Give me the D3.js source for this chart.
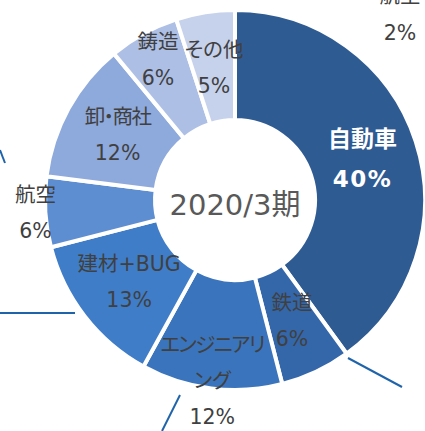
<!DOCTYPE html>
<html><head><meta charset="utf-8">
<script src="https://cdn.jsdelivr.net/npm/d3@7"></script>
<style>html,body{margin:0;padding:0;background:#fff;overflow:hidden}
.palt{font-feature-settings:"palt" 1}</style>
</head><body>
<svg id="c" width="425" height="431"></svg>
<script>
const categories = ["自動車","鉄道","エンジニアリング","建材+BUG","航空","卸・商社","鋳造","その他"];
const values = [40, 6, 12, 13, 6, 12, 6, 5];
const labelLines = [["自動車"],["鉄道"],["エンジニアリ","ング"],["建材+BUG"],["航空"],["卸・商社"],["鋳造"],["その他"]];
const colors = ["#2F5B93","#3467AA","#3A74BC","#3F7DC8","#5E8ED2","#8EA9DB","#ADBFE5","#C6D2EC"];
const centerTitle = "2020/3期";

const svg = d3.select("#c");
const cx = 235, cy = 200, rOuter = 190, rInner = 80;
const font = "'DejaVu Sans','Noto Sans CJK JP',sans-serif";
const g = svg.append("g").attr("transform", `translate(${cx},${cy})`);

const pie = d3.pie().sort(null).value(d => d.v);
const data = categories.map((c, i) => ({c, v: values[i], i}));
const arcs = pie(data);
const arc = d3.arc().innerRadius(rInner).outerRadius(rOuter);

g.selectAll("path").data(arcs).join("path")
  .attr("d", arc)
  .attr("fill", d => colors[d.data.i])
  .attr("stroke", "#fff").attr("stroke-width", 4).attr("stroke-linejoin", "miter");

// label radius per category (layout only)
const labelR = {"エンジニアリング": 182, "航空": 200, "鋳造": 160};
const kana = /[\u3040-\u30ff]/;
arcs.forEach(d => {
  const mid = (d.startAngle + d.endAngle) / 2;
  const r = labelR[d.data.c] || 134;
  const isMain = d.data.i === 0;
  const lineH = isMain ? 40 : 36;
  const x = r * Math.sin(mid), y = -r * Math.cos(mid);
  const lines = labelLines[d.data.i].concat([d.data.v + "%"]);
  const n = lines.length;
  const t = g.append("text")
    .attr("x", x).attr("y", y - (n - 1) * lineH / 2)
    .attr("text-anchor", "middle").attr("dominant-baseline", "central")
    .attr("font-family", font)
    .attr("font-size", isMain ? 23 : 20.5)
    .attr("font-weight", isMain ? "bold" : "normal")
    .attr("fill", isMain ? "#ffffff" : "#404040");
  lines.forEach((l, k) => {
    const isKana = kana.test(l);
    t.append("tspan").attr("x", x).attr("dy", k === 0 ? 0 : lineH)
      .attr("class", isKana ? "palt" : null)
      .attr("letter-spacing", isMain && k === n - 1 ? 1.5 : (isKana && l.length > 3 ? -1.5 : null))
      .text(l);
  });
});

g.append("text").attr("x", 0).attr("y", 5)
  .attr("text-anchor", "middle").attr("dominant-baseline", "central")
  .attr("font-family", font).attr("font-size", 29).attr("fill", "#595959")
  .text(centerTitle);

// cropped neighbouring label (top right)
svg.append("text").attr("x", 400).attr("y", 3).attr("text-anchor", "middle")
  .attr("font-family", font).attr("font-size", 20.5).attr("fill", "#404040").text("航空");
svg.append("text").attr("x", 400).attr("y", 33).attr("text-anchor", "middle")
  .attr("dominant-baseline", "central")
  .attr("font-family", font).attr("font-size", 20.5).attr("fill", "#404040").text("2%");

// leader lines from adjacent callouts
const leaders = [[[0,150],[5,163]],[[0,313],[75,313]],[[162,431],[180,395]],[[348,358],[402,387]]];
leaders.forEach(p => svg.append("line")
  .attr("x1", p[0][0]).attr("y1", p[0][1]).attr("x2", p[1][0]).attr("y2", p[1][1])
  .attr("stroke", "#1F64AA").attr("stroke-width", 2));
</script>
</body></html>
